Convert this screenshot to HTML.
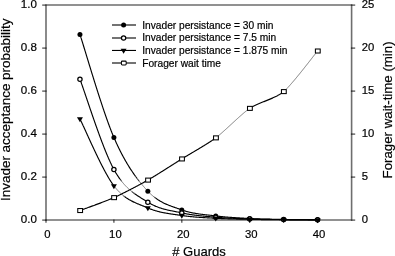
<!DOCTYPE html>
<html><head><meta charset="utf-8"><style>
html,body{margin:0;padding:0;background:#fff;width:395px;height:256px;overflow:hidden}
svg{display:block;will-change:transform}
text{font-family:"Liberation Sans",sans-serif;fill:#000;stroke:#000;stroke-width:0.2px}
</style></head><body>
<svg width="395" height="256" viewBox="0 0 395 256">
<g stroke="#6e6e6e" stroke-width="1.6" fill="none">
<path d="M46.0,5.0 H351.6 V220.0 H46.0 Z"/>
</g>
<g stroke="#000" stroke-opacity="0.68" stroke-width="1.3" fill="none">
<path d="M42.2,220.10 H46.6"/>
<path d="M42.2,177.10 H46.6"/>
<path d="M42.2,134.10 H46.6"/>
<path d="M42.2,91.10 H46.6"/>
<path d="M42.2,48.10 H46.6"/>
<path d="M42.2,5.10 H46.6"/>
<path d="M350.9,220.10 H355.2"/>
<path d="M350.9,177.10 H355.2"/>
<path d="M350.9,134.10 H355.2"/>
<path d="M350.9,91.10 H355.2"/>
<path d="M350.9,48.10 H355.2"/>
<path d="M350.9,5.10 H355.2"/>
<path d="M46.00,219.4 V222.8"/>
<path d="M113.90,219.4 V222.8"/>
<path d="M181.80,219.4 V222.8"/>
<path d="M249.70,219.4 V222.8"/>
<path d="M317.60,219.4 V222.8"/>
</g>
<text transform="translate(36.85,222.90) scale(1.025,1.03)" font-size="11.30" text-anchor="end">0.0</text>
<text transform="translate(36.85,179.90) scale(1.025,1.03)" font-size="11.30" text-anchor="end">0.2</text>
<text transform="translate(36.85,136.90) scale(1.025,1.03)" font-size="11.30" text-anchor="end">0.4</text>
<text transform="translate(36.85,93.90) scale(1.025,1.03)" font-size="11.30" text-anchor="end">0.6</text>
<text transform="translate(36.85,50.90) scale(1.025,1.03)" font-size="11.30" text-anchor="end">0.8</text>
<text transform="translate(36.85,7.90) scale(1.025,1.03)" font-size="11.30" text-anchor="end">1.0</text>
<text transform="translate(361.70,223.20) scale(1,1.030)" font-size="11.30" text-anchor="start">0</text>
<text transform="translate(361.70,180.20) scale(1,1.030)" font-size="11.30" text-anchor="start">5</text>
<text transform="translate(361.70,137.20) scale(1,1.030)" font-size="11.30" text-anchor="start">10</text>
<text transform="translate(361.70,94.20) scale(1,1.030)" font-size="11.30" text-anchor="start">15</text>
<text transform="translate(361.70,51.20) scale(1,1.030)" font-size="11.30" text-anchor="start">20</text>
<text transform="translate(361.70,8.20) scale(1,1.030)" font-size="11.30" text-anchor="start">25</text>
<text transform="translate(47.50,238.00) scale(1,1.000)" font-size="11.30" text-anchor="middle">0</text>
<text transform="translate(115.40,238.00) scale(1,1.000)" font-size="11.30" text-anchor="middle">10</text>
<text transform="translate(183.30,238.00) scale(1,1.000)" font-size="11.30" text-anchor="middle">20</text>
<text transform="translate(251.20,238.00) scale(1,1.000)" font-size="11.30" text-anchor="middle">30</text>
<text transform="translate(319.10,238.00) scale(1,1.000)" font-size="11.30" text-anchor="middle">40</text>
<text transform="translate(199,255.8) scale(0.99,1.03)" font-size="13.2" text-anchor="middle"># Guards</text>
<text transform="translate(9.50,109.80) rotate(-90) scale(0.990,1)" font-size="13.60" text-anchor="middle">Invader acceptance probability</text>
<text transform="translate(392.20,109.90) rotate(-90) scale(0.975,1)" font-size="13.60" text-anchor="middle">Forager wait-time (min)</text>
<path d="M79.95,34.46 L80.05,34.74 L80.14,35.04 L80.24,35.35 L80.34,35.66 L80.45,35.98 L80.55,36.31 L80.66,36.65 L80.77,36.99 L80.88,37.34 L80.99,37.70 L81.11,38.06 L81.23,38.43 L81.35,38.81 L81.47,39.20 L81.59,39.59 L81.72,39.99 L81.84,40.39 L81.97,40.80 L82.10,41.22 L82.23,41.65 L82.37,42.08 L82.50,42.52 L82.64,42.96 L82.78,43.41 L82.92,43.86 L83.06,44.33 L83.20,44.79 L83.35,45.27 L83.50,45.74 L83.64,46.23 L83.79,46.72 L83.95,47.21 L84.10,47.72 L84.25,48.22 L84.41,48.73 L84.57,49.25 L84.73,49.77 L84.89,50.30 L85.05,50.83 L85.21,51.36 L85.38,51.90 L85.54,52.45 L85.71,53.00 L85.88,53.56 L86.05,54.11 L86.22,54.68 L86.39,55.25 L86.57,55.82 L86.74,56.39 L86.92,56.97 L87.10,57.56 L87.28,58.14 L87.46,58.74 L87.64,59.33 L87.82,59.93 L88.01,60.53 L88.19,61.14 L88.38,61.75 L88.56,62.36 L88.75,62.98 L88.94,63.60 L89.13,64.22 L89.32,64.85 L89.51,65.47 L89.71,66.11 L89.90,66.74 L90.10,67.38 L90.29,68.02 L90.49,68.66 L90.69,69.30 L90.89,69.95 L91.09,70.60 L91.29,71.25 L91.49,71.90 L91.69,72.56 L91.89,73.22 L92.10,73.87 L92.30,74.54 L92.50,75.20 L92.71,75.86 L92.92,76.53 L93.12,77.20 L93.33,77.87 L93.54,78.54 L93.75,79.21 L93.96,79.88 L94.17,80.56 L94.38,81.23 L94.59,81.91 L94.80,82.59 L95.02,83.27 L95.23,83.95 L95.44,84.63 L95.66,85.31 L95.87,85.99 L96.09,86.67 L96.30,87.35 L96.52,88.03 L96.73,88.71 L96.95,89.40 L97.17,90.08 L97.38,90.76 L97.60,91.44 L97.82,92.12 L98.04,92.81 L98.25,93.49 L98.47,94.17 L98.69,94.85 L98.91,95.53 L99.13,96.21 L99.35,96.88 L99.57,97.56 L99.79,98.24 L100.01,98.91 L100.23,99.59 L100.45,100.26 L100.67,100.94 L100.89,101.61 L101.11,102.28 L101.33,102.94 L101.55,103.61 L101.77,104.28 L101.99,104.94 L102.21,105.60 L102.43,106.26 L102.65,106.92 L102.87,107.58 L103.08,108.23 L103.30,108.88 L103.52,109.53 L103.74,110.18 L103.96,110.82 L104.18,111.46 L104.40,112.10 L104.62,112.74 L104.83,113.38 L105.05,114.01 L105.27,114.64 L105.49,115.26 L105.70,115.89 L105.92,116.51 L106.14,117.12 L106.35,117.74 L106.57,118.35 L106.78,118.95 L107.00,119.56 L107.21,120.16 L107.42,120.75 L107.64,121.34 L107.85,121.93 L108.06,122.52 L108.27,123.10 L108.48,123.68 L108.69,124.25 L108.90,124.82 L109.11,125.38 L109.32,125.94 L109.53,126.50 L109.74,127.05 L109.94,127.59 L110.15,128.14 L110.35,128.67 L110.56,129.20 L110.76,129.73 L110.96,130.25 L111.16,130.77 L111.37,131.28 L111.57,131.79 L111.77,132.29 L111.96,132.79 L112.16,133.28 L112.36,133.76 L112.56,134.24 L112.75,134.72 L112.94,135.19 L113.14,135.65 L113.33,136.11 L113.52,136.56 L113.71,137.00 L113.90,137.44 L114.22,138.18 L114.54,138.91 L114.86,139.63 L115.18,140.35 L115.50,141.07 L115.82,141.78 L116.14,142.48 L116.46,143.18 L116.78,143.87 L117.10,144.56 L117.42,145.24 L117.74,145.92 L118.06,146.59 L118.38,147.25 L118.70,147.91 L119.02,148.57 L119.34,149.22 L119.67,149.87 L119.99,150.51 L120.31,151.15 L120.63,151.78 L120.95,152.40 L121.27,153.02 L121.59,153.64 L121.91,154.25 L122.23,154.86 L122.55,155.46 L122.87,156.06 L123.19,156.65 L123.51,157.24 L123.83,157.82 L124.15,158.40 L124.47,158.98 L124.79,159.55 L125.11,160.11 L125.43,160.68 L125.75,161.23 L126.07,161.79 L126.39,162.33 L126.71,162.88 L127.03,163.42 L127.35,163.95 L127.67,164.49 L127.99,165.01 L128.31,165.54 L128.63,166.06 L128.95,166.57 L129.27,167.08 L129.59,167.59 L129.91,168.09 L130.23,168.59 L130.55,169.09 L130.88,169.58 L131.20,170.07 L131.52,170.56 L131.84,171.04 L132.16,171.51 L132.48,171.99 L132.80,172.46 L133.12,172.93 L133.44,173.39 L133.76,173.85 L134.08,174.30 L134.40,174.76 L134.72,175.21 L135.04,175.65 L135.36,176.10" stroke="rgb(0,0,0)" stroke-width="1.15" fill="none"/>
<path d="M135.36,176.10 L135.68,176.54 L136.00,176.97 L136.32,177.41 L136.64,177.84 L136.96,178.26 L137.28,178.69" stroke="rgb(26,26,26)" stroke-width="1.09" fill="none"/>
<path d="M137.28,178.69 L137.60,179.11 L137.92,179.53 L138.24,179.94 L138.56,180.35 L138.88,180.76 L139.20,181.17" stroke="rgb(52,52,52)" stroke-width="1.02" fill="none"/>
<path d="M139.20,181.17 L139.52,181.57 L139.84,181.97 L140.16,182.37 L140.48,182.77 L140.80,183.16 L141.12,183.55" stroke="rgb(79,79,79)" stroke-width="0.96" fill="none"/>
<path d="M141.12,183.55 L141.44,183.94 L141.76,184.32 L142.08,184.70 L142.41,185.08 L142.73,185.46 L143.05,185.83 L143.37,186.21 L143.69,186.58 L144.01,186.94 L144.33,187.31 L144.65,187.67 L144.97,188.03 L145.29,188.39 L145.61,188.75 L145.93,189.10 L146.25,189.46 L146.57,189.81 L146.89,190.16 L147.21,190.50 L147.53,190.85 L147.85,191.19 L148.37,191.74 L148.89,192.28 L149.42,192.80 L149.94,193.31 L150.46,193.81 L150.98,194.30 L151.51,194.77 L152.03,195.23 L152.55,195.69 L153.07,196.12" stroke="rgb(105,105,105)" stroke-width="0.90" fill="none"/>
<path d="M153.07,196.12 L153.60,196.55 L154.12,196.97" stroke="rgb(79,79,79)" stroke-width="0.96" fill="none"/>
<path d="M154.12,196.97 L154.64,197.38" stroke="rgb(52,52,52)" stroke-width="1.02" fill="none"/>
<path d="M154.64,197.38 L155.16,197.77 L155.68,198.16" stroke="rgb(26,26,26)" stroke-width="1.09" fill="none"/>
<path d="M155.68,198.16 L156.21,198.54 L156.73,198.90 L157.25,199.26 L157.77,199.61 L158.30,199.95 L158.82,200.28 L159.34,200.60 L159.86,200.91 L160.39,201.22 L160.91,201.51 L161.43,201.80 L161.95,202.09 L162.47,202.36 L163.00,202.63 L163.52,202.90 L164.04,203.15 L164.56,203.40 L165.09,203.65 L165.61,203.89 L166.13,204.12 L166.65,204.35 L167.18,204.57 L167.70,204.79 L168.22,205.01 L168.74,205.22 L169.26,205.43 L169.79,205.63 L170.31,205.83 L170.83,206.03 L171.35,206.22 L171.88,206.42 L172.40,206.61 L172.92,206.79 L173.44,206.98 L173.97,207.16 L174.49,207.35 L175.01,207.53 L175.53,207.71 L176.05,207.89 L176.58,208.07 L177.10,208.25 L177.62,208.43 L178.14,208.61 L178.67,208.79 L179.19,208.97 L179.71,209.15 L180.23,209.33 L180.76,209.52 L181.28,209.71 L181.80,209.90 L182.40,210.11 L182.99,210.32 L183.59,210.52 L184.18,210.71 L184.78,210.90 L185.37,211.08 L185.97,211.26 L186.56,211.43 L187.16,211.59 L187.76,211.75 L188.35,211.91 L188.95,212.05 L189.54,212.20 L190.14,212.34 L190.73,212.47 L191.33,212.60 L191.93,212.73 L192.52,212.85 L193.12,212.97 L193.71,213.08 L194.31,213.19 L194.90,213.30 L195.50,213.40 L196.09,213.50 L196.69,213.60 L197.29,213.69 L197.88,213.78 L198.48,213.87 L199.07,213.96 L199.67,214.04 L200.26,214.12 L200.86,214.20 L201.46,214.27 L202.05,214.35 L202.65,214.42 L203.24,214.49 L203.84,214.56 L204.43,214.63 L205.03,214.70 L205.62,214.77 L206.22,214.83 L206.82,214.90 L207.41,214.97 L208.01,215.03 L208.60,215.10 L209.20,215.16 L209.79,215.22 L210.39,215.29 L210.99,215.36 L211.58,215.42 L212.18,215.49 L212.77,215.56 L213.37,215.63 L213.96,215.70 L214.56,215.77 L215.15,215.84 L215.75,215.91 L216.36,215.99 L216.96,216.07 L217.57,216.14 L218.18,216.21 L218.78,216.28 L219.39,216.35 L219.99,216.41 L220.60,216.48 L221.21,216.54 L221.81,216.60 L222.42,216.66 L223.02,216.72 L223.63,216.78 L224.24,216.84 L224.84,216.90 L225.45,216.95 L226.06,217.00 L226.66,217.06 L227.27,217.11 L227.87,217.16 L228.48,217.21 L229.09,217.25 L229.69,217.30 L230.30,217.35 L230.91,217.39 L231.51,217.44 L232.12,217.48 L232.72,217.52 L233.33,217.56 L233.94,217.60 L234.54,217.64 L235.15,217.68 L235.76,217.72 L236.36,217.76 L236.97,217.80 L237.57,217.83 L238.18,217.87 L238.79,217.91 L239.39,217.94 L240.00,217.98 L240.61,218.01 L241.21,218.04 L241.82,218.08 L242.43,218.11 L243.03,218.14 L243.64,218.18 L244.24,218.21 L244.85,218.24 L245.46,218.27 L246.06,218.31 L246.67,218.34 L247.27,218.37 L247.88,218.40 L248.49,218.43 L249.09,218.46 L249.70,218.50 L250.31,218.53 L250.91,218.56 L251.52,218.59 L252.12,218.62 L252.73,218.64 L253.34,218.67 L253.94,218.70 L254.55,218.72 L255.16,218.75 L255.76,218.77 L256.37,218.80 L256.97,218.82 L257.58,218.84 L258.19,218.87 L258.79,218.89 L259.40,218.91 L260.01,218.93 L260.61,218.95 L261.22,218.97 L261.82,218.99 L262.43,219.00 L263.04,219.02 L263.64,219.04 L264.25,219.06 L264.86,219.07 L265.46,219.09 L266.07,219.10 L266.68,219.12 L267.28,219.13 L267.89,219.15 L268.49,219.16 L269.10,219.18 L269.71,219.19 L270.31,219.20 L270.92,219.22 L271.52,219.23 L272.13,219.24 L272.74,219.26 L273.34,219.27 L273.95,219.28 L274.56,219.29 L275.16,219.30 L275.77,219.32 L276.38,219.33 L276.98,219.34 L277.59,219.35 L278.19,219.36 L278.80,219.37 L279.41,219.38 L280.01,219.39 L280.62,219.41 L281.22,219.42 L281.83,219.43 L282.44,219.44 L283.04,219.45 L283.65,219.46 L284.26,219.47 L284.88,219.48 L285.51,219.50 L286.16,219.51 L286.80,219.52 L287.46,219.53 L288.13,219.54 L288.80,219.55 L289.47,219.55 L290.16,219.56 L290.85,219.57 L291.54,219.58 L292.23,219.59 L292.93,219.60 L293.64,219.60 L294.34,219.61 L295.05,219.62 L295.75,219.63 L296.46,219.63 L297.17,219.64 L297.87,219.64 L298.58,219.65 L299.28,219.66 L299.98,219.66 L300.68,219.67 L301.37,219.67 L302.06,219.68 L302.75,219.68 L303.43,219.69 L304.10,219.69 L304.77,219.70 L305.43,219.70 L306.08,219.71 L306.72,219.71 L307.36,219.72 L307.98,219.72 L308.60,219.72 L309.20,219.73 L309.79,219.73 L310.37,219.74 L310.94,219.74 L311.50,219.74 L312.04,219.75 L312.57,219.75 L313.08,219.75 L313.58,219.76 L314.07,219.76 L314.53,219.76 L314.98,219.76 L315.41,219.77 L315.83,219.77 L316.22,219.77 L316.60,219.78 L316.95,219.78 L317.29,219.78 L317.60,219.78" stroke="rgb(0,0,0)" stroke-width="1.15" fill="none"/>
<path d="M79.95,79.17 L80.06,79.46 L80.17,79.76 L80.28,80.06 L80.40,80.38 L80.51,80.70 L80.63,81.03 L80.76,81.37 L80.88,81.72 L81.01,82.08 L81.14,82.44 L81.27,82.82 L81.41,83.20 L81.54,83.59 L81.68,83.99 L81.83,84.39 L81.97,84.81 L82.12,85.23 L82.27,85.66 L82.42,86.09 L82.57,86.54 L82.72,86.99 L82.88,87.44 L83.04,87.91 L83.20,88.38 L83.37,88.86 L83.53,89.34 L83.70,89.83 L83.87,90.33 L84.04,90.83 L84.21,91.34 L84.39,91.86 L84.57,92.38 L84.75,92.91 L84.93,93.44 L85.11,93.98 L85.29,94.52 L85.48,95.07 L85.67,95.63 L85.86,96.19 L86.05,96.75 L86.24,97.32 L86.44,97.90 L86.63,98.48 L86.83,99.06 L87.03,99.65 L87.23,100.24 L87.44,100.84 L87.64,101.44 L87.85,102.05 L88.05,102.66 L88.26,103.27 L88.47,103.89 L88.68,104.51 L88.89,105.14 L89.11,105.77 L89.32,106.40 L89.54,107.03 L89.76,107.67 L89.97,108.31 L90.19,108.96 L90.42,109.60 L90.64,110.25 L90.86,110.90 L91.09,111.56 L91.31,112.22 L91.54,112.88 L91.77,113.54 L91.99,114.20 L92.22,114.87 L92.45,115.53 L92.68,116.20 L92.92,116.87 L93.15,117.54 L93.38,118.22 L93.62,118.89 L93.85,119.57 L94.09,120.25 L94.33,120.92 L94.56,121.60 L94.80,122.28 L95.04,122.96 L95.28,123.64 L95.52,124.32 L95.76,125.01 L96.00,125.69 L96.25,126.37 L96.49,127.05 L96.73,127.73 L96.98,128.41 L97.22,129.10 L97.46,129.78 L97.71,130.46 L97.95,131.14 L98.20,131.81 L98.44,132.49 L98.69,133.17 L98.94,133.84 L99.18,134.52 L99.43,135.19 L99.68,135.86 L99.92,136.53 L100.17,137.20 L100.42,137.87 L100.67,138.54 L100.91,139.20 L101.16,139.86 L101.41,140.52 L101.66,141.17 L101.90,141.83 L102.15,142.48 L102.40,143.13 L102.65,143.78 L102.89,144.42 L103.14,145.06 L103.39,145.70 L103.63,146.33 L103.88,146.96 L104.13,147.59 L104.37,148.21 L104.62,148.83 L104.86,149.45 L105.11,150.07 L105.35,150.67 L105.60,151.28 L105.84,151.88 L106.08,152.48 L106.32,153.07 L106.57,153.66 L106.81,154.24 L107.05,154.82 L107.29,155.39 L107.53,155.96 L107.77,156.53 L108.01,157.09 L108.25,157.64 L108.48,158.19 L108.72,158.73 L108.96,159.27 L109.19,159.80 L109.42,160.33 L109.66,160.85 L109.89,161.36 L110.12,161.87 L110.35,162.37 L110.58,162.87 L110.81,163.36 L111.04,163.84 L111.27,164.32 L111.49,164.79 L111.72,165.25 L111.94,165.70 L112.16,166.15 L112.38,166.59 L112.60,167.03 L112.82,167.46 L113.04,167.87 L113.26,168.29 L113.47,168.69 L113.69,169.09 L113.90,169.47 L114.33,170.25 L114.76,171.00 L115.19,171.74 L115.62,172.47 L116.05,173.18 L116.48,173.88 L116.91,174.57 L117.34,175.24 L117.77,175.90 L118.20,176.55 L118.63,177.18 L119.06,177.80 L119.49,178.41 L119.92,179.01" stroke="rgb(0,0,0)" stroke-width="1.15" fill="none"/>
<path d="M119.92,179.01 L120.35,179.59 L120.78,180.16" stroke="rgb(26,26,26)" stroke-width="1.09" fill="none"/>
<path d="M120.78,180.16 L121.21,180.72 L121.64,181.27" stroke="rgb(52,52,52)" stroke-width="1.02" fill="none"/>
<path d="M121.64,181.27 L122.07,181.81 L122.49,182.34" stroke="rgb(79,79,79)" stroke-width="0.96" fill="none"/>
<path d="M122.49,182.34 L122.92,182.86 L123.35,183.37 L123.78,183.86 L124.21,184.35 L124.64,184.83 L125.07,185.29 L125.50,185.75 L125.93,186.20 L126.36,186.64 L126.79,187.07 L127.22,187.50 L127.65,187.91 L128.08,188.32 L128.51,188.72 L128.94,189.11 L129.37,189.50 L129.80,189.87 L130.23,190.24 L130.66,190.61 L131.09,190.96" stroke="rgb(105,105,105)" stroke-width="0.90" fill="none"/>
<path d="M131.09,190.96 L131.52,191.32 L131.95,191.66" stroke="rgb(79,79,79)" stroke-width="0.96" fill="none"/>
<path d="M131.95,191.66 L132.38,192.00 L132.81,192.33 L133.24,192.66" stroke="rgb(52,52,52)" stroke-width="1.02" fill="none"/>
<path d="M133.24,192.66 L133.67,192.98 L134.10,193.30 L134.53,193.62" stroke="rgb(26,26,26)" stroke-width="1.09" fill="none"/>
<path d="M134.53,193.62 L134.96,193.92 L135.39,194.23 L135.82,194.53 L136.25,194.82 L136.68,195.12 L137.11,195.41 L137.54,195.69 L137.97,195.98 L138.40,196.26 L138.83,196.53 L139.26,196.81 L139.68,197.08 L140.11,197.35 L140.54,197.62 L140.97,197.89 L141.40,198.16 L141.83,198.42 L142.26,198.69 L142.69,198.95 L143.12,199.22 L143.55,199.48 L143.98,199.74 L144.41,200.01 L144.84,200.27 L145.27,200.54 L145.70,200.80 L146.13,201.07 L146.56,201.34 L146.99,201.61 L147.42,201.88 L147.85,202.16 L148.43,202.52 L149.00,202.87 L149.58,203.21 L150.15,203.54 L150.73,203.87 L151.30,204.18 L151.88,204.48 L152.45,204.77 L153.03,205.06 L153.60,205.34 L154.18,205.60 L154.76,205.86 L155.33,206.11 L155.91,206.36 L156.48,206.59 L157.06,206.82 L157.63,207.04 L158.21,207.26 L158.78,207.47 L159.36,207.67 L159.93,207.86 L160.51,208.05 L161.08,208.24 L161.66,208.41 L162.24,208.59 L162.81,208.75 L163.39,208.92 L163.96,209.07 L164.54,209.23 L165.11,209.38 L165.69,209.52 L166.26,209.67 L166.84,209.80 L167.41,209.94 L167.99,210.07 L168.57,210.20 L169.14,210.33 L169.72,210.45 L170.29,210.57 L170.87,210.69 L171.44,210.81 L172.02,210.93 L172.59,211.04 L173.17,211.16 L173.74,211.27 L174.32,211.38 L174.89,211.50 L175.47,211.61 L176.05,211.72 L176.62,211.83 L177.20,211.95 L177.77,212.06 L178.35,212.18 L178.92,212.30 L179.50,212.41 L180.07,212.53 L180.65,212.65 L181.22,212.78 L181.80,212.91 L182.40,213.04 L182.99,213.16 L183.59,213.29 L184.18,213.41 L184.78,213.53 L185.37,213.64 L185.97,213.75 L186.56,213.86 L187.16,213.97 L187.76,214.08 L188.35,214.18 L188.95,214.28 L189.54,214.38 L190.14,214.47 L190.73,214.56 L191.33,214.65 L191.93,214.74 L192.52,214.83 L193.12,214.91 L193.71,214.99 L194.31,215.07 L194.90,215.15 L195.50,215.23 L196.09,215.30 L196.69,215.38 L197.29,215.45 L197.88,215.52 L198.48,215.59 L199.07,215.65 L199.67,215.72 L200.26,215.78 L200.86,215.85 L201.46,215.91 L202.05,215.97 L202.65,216.03 L203.24,216.09 L203.84,216.14 L204.43,216.20 L205.03,216.26 L205.62,216.31 L206.22,216.37 L206.82,216.42 L207.41,216.48 L208.01,216.53 L208.60,216.58 L209.20,216.63 L209.79,216.69 L210.39,216.74 L210.99,216.79 L211.58,216.84 L212.18,216.89 L212.77,216.94 L213.37,217.00 L213.96,217.05 L214.56,217.10 L215.15,217.15 L215.75,217.21 L216.36,217.26 L216.96,217.31 L217.57,217.36 L218.18,217.41 L218.78,217.46 L219.39,217.50 L219.99,217.55 L220.60,217.60 L221.21,217.64 L221.81,217.68 L222.42,217.72 L223.02,217.76 L223.63,217.80 L224.24,217.84 L224.84,217.88 L225.45,217.91 L226.06,217.95 L226.66,217.98 L227.27,218.02 L227.87,218.05 L228.48,218.08 L229.09,218.12 L229.69,218.15 L230.30,218.18 L230.91,218.21 L231.51,218.24 L232.12,218.26 L232.72,218.29 L233.33,218.32 L233.94,218.34 L234.54,218.37 L235.15,218.40 L235.76,218.42 L236.36,218.44 L236.97,218.47 L237.57,218.49 L238.18,218.52 L238.79,218.54 L239.39,218.56 L240.00,218.58 L240.61,218.61 L241.21,218.63 L241.82,218.65 L242.43,218.67 L243.03,218.69 L243.64,218.71 L244.24,218.73 L244.85,218.76 L245.46,218.78 L246.06,218.80 L246.67,218.82 L247.27,218.84 L247.88,218.86 L248.49,218.88 L249.09,218.90 L249.70,218.93 L250.31,218.95 L250.91,218.97 L251.52,218.99 L252.12,219.01 L252.73,219.03 L253.34,219.05 L253.94,219.06 L254.55,219.08 L255.16,219.10 L255.76,219.12 L256.37,219.13 L256.97,219.15 L257.58,219.16 L258.19,219.18 L258.79,219.20 L259.40,219.21 L260.01,219.22 L260.61,219.24 L261.22,219.25 L261.82,219.27 L262.43,219.28 L263.04,219.29 L263.64,219.30 L264.25,219.32 L264.86,219.33 L265.46,219.34 L266.07,219.35 L266.68,219.36 L267.28,219.37 L267.89,219.38 L268.49,219.39 L269.10,219.40 L269.71,219.41 L270.31,219.42 L270.92,219.43 L271.52,219.44 L272.13,219.45 L272.74,219.46 L273.34,219.47 L273.95,219.48 L274.56,219.49 L275.16,219.50 L275.77,219.51 L276.38,219.51 L276.98,219.52 L277.59,219.53 L278.19,219.54 L278.80,219.55 L279.41,219.56 L280.01,219.56 L280.62,219.57 L281.22,219.58 L281.83,219.59 L282.44,219.60 L283.04,219.60 L283.65,219.61 L284.26,219.62 L284.88,219.63 L285.51,219.64 L286.16,219.64 L286.80,219.65 L287.46,219.66 L288.13,219.67 L288.80,219.67 L289.47,219.68 L290.16,219.69 L290.85,219.69 L291.54,219.70 L292.23,219.70 L292.93,219.71 L293.64,219.71 L294.34,219.72 L295.05,219.73 L295.75,219.73 L296.46,219.74 L297.17,219.74 L297.87,219.75 L298.58,219.75 L299.28,219.75 L299.98,219.76 L300.68,219.76 L301.37,219.77 L302.06,219.77 L302.75,219.77 L303.43,219.78 L304.10,219.78 L304.77,219.79 L305.43,219.79 L306.08,219.79 L306.72,219.79 L307.36,219.80 L307.98,219.80 L308.60,219.80 L309.20,219.81 L309.79,219.81 L310.37,219.81 L310.94,219.81 L311.50,219.82 L312.04,219.82 L312.57,219.82 L313.08,219.83 L313.58,219.83 L314.07,219.83 L314.53,219.83 L314.98,219.83 L315.41,219.84 L315.83,219.84 L316.22,219.84 L316.60,219.84 L316.95,219.85 L317.29,219.85 L317.60,219.85" stroke="rgb(0,0,0)" stroke-width="1.15" fill="none"/>
<path d="M79.95,118.95 L80.09,119.22 L80.23,119.51 L80.38,119.80 L80.53,120.11 L80.68,120.43 L80.84,120.75 L81.00,121.09 L81.17,121.44 L81.34,121.80 L81.52,122.17 L81.70,122.54 L81.88,122.93 L82.06,123.33 L82.25,123.74 L82.45,124.15 L82.64,124.57 L82.84,125.01 L83.05,125.45 L83.25,125.90 L83.47,126.35 L83.68,126.82 L83.90,127.29 L84.12,127.77 L84.34,128.26 L84.57,128.76 L84.80,129.26 L85.03,129.77 L85.27,130.29 L85.50,130.81 L85.74,131.34 L85.99,131.88 L86.24,132.42 L86.49,132.97 L86.74,133.52 L86.99,134.08 L87.25,134.65 L87.51,135.22 L87.77,135.79 L88.04,136.37 L88.30,136.96 L88.57,137.55 L88.84,138.14 L89.12,138.74 L89.39,139.34 L89.67,139.95 L89.95,140.56 L90.23,141.17 L90.51,141.79 L90.80,142.41 L91.09,143.03 L91.37,143.65 L91.66,144.28 L91.96,144.91 L92.25,145.55 L92.55,146.18 L92.84,146.82 L93.14,147.46 L93.44,148.10 L93.74,148.74 L94.04,149.38 L94.35,150.03 L94.65,150.68 L94.96,151.32 L95.26,151.97 L95.57,152.62 L95.88,153.26 L96.19,153.91 L96.50,154.56 L96.81,155.21 L97.12,155.86 L97.43,156.50 L97.75,157.15 L98.06,157.79 L98.38,158.44 L98.69,159.08 L99.01,159.72 L99.32,160.36 L99.64,161.00 L99.95,161.63 L100.27,162.27 L100.59,162.90 L100.90,163.53 L101.22,164.15 L101.54,164.78 L101.85,165.40 L102.17,166.02 L102.49,166.63 L102.80,167.24 L103.12,167.85 L103.44,168.45 L103.75,169.05 L104.07,169.65 L104.38,170.24 L104.70,170.82 L105.01,171.40 L105.32,171.98 L105.63,172.55 L105.95,173.12 L106.26,173.68 L106.57,174.23 L106.88,174.78 L107.18,175.33 L107.49,175.87 L107.80,176.40 L108.10,176.92 L108.41,177.44 L108.71,177.95 L109.01,178.46 L109.31,178.95 L109.61,179.45 L109.91,179.93 L110.20,180.40 L110.50,180.87 L110.79,181.33 L111.08,181.78 L111.37,182.23 L111.66,182.66 L111.95,183.09 L112.23,183.50 L112.52,183.91 L112.80,184.31 L113.08,184.70 L113.35,185.08" stroke="rgb(0,0,0)" stroke-width="1.15" fill="none"/>
<path d="M113.35,185.08 L113.63,185.45 L113.90,185.81" stroke="rgb(26,26,26)" stroke-width="1.09" fill="none"/>
<path d="M113.90,185.81 L114.40,186.46" stroke="rgb(52,52,52)" stroke-width="1.02" fill="none"/>
<path d="M114.40,186.46 L114.90,187.09 L115.40,187.71" stroke="rgb(79,79,79)" stroke-width="0.96" fill="none"/>
<path d="M115.40,187.71 L115.90,188.31 L116.40,188.89 L116.90,189.46 L117.39,190.02 L117.89,190.56 L118.39,191.08 L118.89,191.60 L119.39,192.10 L119.89,192.59 L120.39,193.06 L120.89,193.52 L121.39,193.97 L121.89,194.41 L122.39,194.84 L122.89,195.25" stroke="rgb(105,105,105)" stroke-width="0.90" fill="none"/>
<path d="M122.89,195.25 L123.39,195.66" stroke="rgb(79,79,79)" stroke-width="0.96" fill="none"/>
<path d="M123.39,195.66 L123.89,196.05 L124.38,196.43" stroke="rgb(52,52,52)" stroke-width="1.02" fill="none"/>
<path d="M124.38,196.43 L124.88,196.81" stroke="rgb(26,26,26)" stroke-width="1.09" fill="none"/>
<path d="M124.88,196.81 L125.38,197.17 L125.88,197.52 L126.38,197.87 L126.88,198.20 L127.38,198.53 L127.88,198.85 L128.38,199.16 L128.88,199.46 L129.38,199.76 L129.88,200.04 L130.38,200.32 L130.88,200.60 L131.37,200.86 L131.87,201.12 L132.37,201.38 L132.87,201.63 L133.37,201.87 L133.87,202.11 L134.37,202.35 L134.87,202.58 L135.37,202.80 L135.87,203.03 L136.37,203.25 L136.87,203.46 L137.37,203.67 L137.86,203.88 L138.36,204.09 L138.86,204.30 L139.36,204.50 L139.86,204.70 L140.36,204.90 L140.86,205.10 L141.36,205.30 L141.86,205.50 L142.36,205.70 L142.86,205.90 L143.36,206.10 L143.86,206.30 L144.36,206.50 L144.85,206.70 L145.35,206.91 L145.85,207.11 L146.35,207.32 L146.85,207.53 L147.35,207.74 L147.85,207.96 L148.44,208.21 L149.02,208.46 L149.61,208.70 L150.19,208.93 L150.78,209.15 L151.36,209.37 L151.95,209.58 L152.53,209.79 L153.12,209.99 L153.70,210.18 L154.29,210.37 L154.87,210.55 L155.46,210.73 L156.04,210.90 L156.63,211.06 L157.22,211.22 L157.80,211.38 L158.39,211.53 L158.97,211.68 L159.56,211.82 L160.14,211.96 L160.73,212.09 L161.31,212.22 L161.90,212.35 L162.48,212.47 L163.07,212.59 L163.65,212.71 L164.24,212.82 L164.83,212.93 L165.41,213.04 L166.00,213.14 L166.58,213.24 L167.17,213.34 L167.75,213.44 L168.34,213.54 L168.92,213.63 L169.51,213.72 L170.09,213.81 L170.68,213.90 L171.26,213.98 L171.85,214.07 L172.43,214.15 L173.02,214.24 L173.61,214.32 L174.19,214.40 L174.78,214.48 L175.36,214.57 L175.95,214.65 L176.53,214.73 L177.12,214.81 L177.70,214.89 L178.29,214.97 L178.87,215.06 L179.46,215.14 L180.04,215.22 L180.63,215.31 L181.21,215.40 L181.80,215.49 L182.41,215.58 L183.01,215.66 L183.62,215.75 L184.23,215.83 L184.83,215.92 L185.44,216.00 L186.04,216.07 L186.65,216.15 L187.26,216.22 L187.86,216.29 L188.47,216.36 L189.07,216.43 L189.68,216.49 L190.29,216.56 L190.89,216.62 L191.50,216.68 L192.11,216.74 L192.71,216.79 L193.32,216.85 L193.92,216.90 L194.53,216.96 L195.14,217.01 L195.74,217.06 L196.35,217.10 L196.96,217.15 L197.56,217.20 L198.17,217.24 L198.78,217.29 L199.38,217.33 L199.99,217.37 L200.59,217.41 L201.20,217.45 L201.81,217.49 L202.41,217.53 L203.02,217.57 L203.62,217.60 L204.23,217.64 L204.84,217.67 L205.44,217.71 L206.05,217.74 L206.66,217.78 L207.26,217.81 L207.87,217.85 L208.47,217.88 L209.08,217.91 L209.69,217.95 L210.29,217.98 L210.90,218.01 L211.51,218.05 L212.11,218.08 L212.72,218.11 L213.32,218.14 L213.93,218.18 L214.54,218.21 L215.14,218.25 L215.75,218.28 L216.36,218.31 L216.96,218.35 L217.57,218.38 L218.18,218.41 L218.78,218.44 L219.39,218.47 L219.99,218.50 L220.60,218.53 L221.21,218.56 L221.81,218.58 L222.42,218.61 L223.02,218.64 L223.63,218.66 L224.24,218.68 L224.84,218.71 L225.45,218.73 L226.06,218.75 L226.66,218.78 L227.27,218.80 L227.87,218.82 L228.48,218.84 L229.09,218.86 L229.69,218.88 L230.30,218.89 L230.91,218.91 L231.51,218.93 L232.12,218.95 L232.72,218.97 L233.33,218.98 L233.94,219.00 L234.54,219.01 L235.15,219.03 L235.76,219.04 L236.36,219.06 L236.97,219.07 L237.57,219.09 L238.18,219.10 L238.79,219.12 L239.39,219.13 L240.00,219.15 L240.61,219.16 L241.21,219.17 L241.82,219.19 L242.43,219.20 L243.03,219.21 L243.64,219.22 L244.24,219.24 L244.85,219.25 L245.46,219.26 L246.06,219.28 L246.67,219.29 L247.27,219.30 L247.88,219.32 L248.49,219.33 L249.09,219.34 L249.70,219.35 L250.31,219.37 L250.91,219.38 L251.52,219.39 L252.12,219.41 L252.73,219.42 L253.34,219.43 L253.94,219.44 L254.55,219.45 L255.16,219.46 L255.76,219.47 L256.37,219.49 L256.97,219.50 L257.58,219.51 L258.19,219.51 L258.79,219.52 L259.40,219.53 L260.01,219.54 L260.61,219.55 L261.22,219.56 L261.82,219.57 L262.43,219.58 L263.04,219.58 L263.64,219.59 L264.25,219.60 L264.86,219.61 L265.46,219.61 L266.07,219.62 L266.68,219.63 L267.28,219.64 L267.89,219.64 L268.49,219.65 L269.10,219.66 L269.71,219.66 L270.31,219.67 L270.92,219.67 L271.52,219.68 L272.13,219.69 L272.74,219.69 L273.34,219.70 L273.95,219.70 L274.56,219.71 L275.16,219.71 L275.77,219.72 L276.38,219.72 L276.98,219.73 L277.59,219.73 L278.19,219.74 L278.80,219.75 L279.41,219.75 L280.01,219.76 L280.62,219.76 L281.22,219.77 L281.83,219.77 L282.44,219.78 L283.04,219.78 L283.65,219.78 L284.26,219.79 L284.88,219.79 L285.51,219.80 L286.16,219.80 L286.80,219.81 L287.46,219.81 L288.13,219.82 L288.80,219.82 L289.47,219.82 L290.16,219.83 L290.85,219.83 L291.54,219.83 L292.23,219.84 L292.93,219.84 L293.64,219.84 L294.34,219.85 L295.05,219.85 L295.75,219.85 L296.46,219.86 L297.17,219.86 L297.87,219.86 L298.58,219.86 L299.28,219.87 L299.98,219.87 L300.68,219.87 L301.37,219.87 L302.06,219.87 L302.75,219.88 L303.43,219.88 L304.10,219.88 L304.77,219.88 L305.43,219.88 L306.08,219.89 L306.72,219.89 L307.36,219.89 L307.98,219.89 L308.60,219.89 L309.20,219.89 L309.79,219.89 L310.37,219.90 L310.94,219.90 L311.50,219.90 L312.04,219.90 L312.57,219.90 L313.08,219.90 L313.58,219.90 L314.07,219.90 L314.53,219.90 L314.98,219.91 L315.41,219.91 L315.83,219.91 L316.22,219.91 L316.60,219.91 L316.95,219.91 L317.29,219.91 L317.60,219.91" stroke="rgb(0,0,0)" stroke-width="1.15" fill="none"/>
<path d="M79.95,210.54 L80.18,210.45 L80.43,210.36 L80.71,210.26 L81.02,210.14 L81.35,210.02 L81.70,209.89 L82.08,209.75 L82.48,209.60 L82.91,209.45 L83.35,209.29 L83.81,209.12 L84.30,208.94 L84.80,208.76 L85.32,208.57 L85.85,208.38 L86.40,208.18 L86.97,207.97 L87.55,207.76 L88.14,207.55 L88.75,207.32 L89.37,207.10 L90.00,206.87 L90.64,206.64 L91.29,206.40 L91.95,206.16 L92.61,205.91 L93.28,205.67 L93.96,205.42 L94.65,205.17 L95.33,204.91 L96.02,204.66 L96.72,204.40 L97.41,204.14 L98.11,203.88 L98.81,203.62 L99.51,203.36 L100.20,203.10 L100.89,202.84 L101.58,202.58 L102.27,202.32 L102.95,202.06 L103.63,201.80 L104.30,201.54 L104.96,201.29 L105.61,201.03 L106.26,200.78 L106.89,200.53 L107.52,200.29 L108.13,200.04 L108.73,199.80 L109.32,199.57 L109.90,199.34 L110.46,199.11 L111.00,198.88 L111.53,198.66 L112.04,198.45 L112.54,198.24 L113.01,198.03 L113.47,197.83 L113.90,197.64 L114.31,197.45 L114.73,197.26 L115.17,197.06 L115.61,196.86 L116.07,196.64 L116.54,196.42 L117.02,196.20 L117.51,195.96 L118.01,195.72 L118.52,195.48 L119.03,195.23 L119.56,194.97 L120.09,194.71 L120.63,194.45 L121.18,194.18 L121.73,193.90 L122.29,193.63 L122.86,193.34 L123.43,193.06 L124.01,192.77 L124.59,192.48 L125.17,192.18 L125.76,191.88 L126.36,191.58 L126.95,191.27 L127.55,190.97 L128.15,190.66 L128.76,190.35 L129.36,190.04 L129.97,189.73 L130.57,189.41 L131.18,189.10 L131.78,188.78 L132.39,188.47 L132.99,188.15 L133.60,187.83 L134.20,187.52 L134.80,187.20 L135.39,186.89 L135.99,186.57 L136.58,186.26 L137.16,185.95 L137.74,185.64 L138.32,185.33 L138.89,185.02 L139.46,184.72 L140.02,184.42 L140.57,184.12 L141.12,183.82 L141.66,183.53 L142.19,183.24 L142.72,182.95 L143.23,182.67 L143.74,182.39 L144.24,182.12 L144.73,181.85 L145.21,181.58 L145.68,181.32 L146.14,181.06 L146.58,180.81 L147.02,180.57 L147.44,180.33 L147.85,180.10 L148.24,179.87 L148.64,179.64 L149.06,179.40 L149.48,179.15 L149.92,178.89 L150.36,178.63 L150.82,178.36 L151.28,178.08 L151.75,177.80 L152.23,177.51 L152.72,177.22 L153.22,176.91 L153.72,176.61 L154.23,176.29 L154.75,175.98 L155.28,175.65 L155.81,175.33 L156.34,175.00 L156.89,174.66 L157.43,174.32 L157.98,173.98 L158.54,173.63 L159.10,173.29 L159.66,172.93 L160.23,172.58 L160.79,172.22 L161.37,171.86 L161.94,171.50 L162.51,171.14 L163.09,170.78 L163.67,170.41 L164.25,170.05 L164.83,169.68 L165.40,169.32 L165.98,168.95 L166.56,168.59 L167.14,168.22 L167.71,167.86 L168.28,167.49 L168.86,167.13 L169.42,166.77 L169.99,166.41 L170.55,166.05 L171.11,165.70 L171.67,165.34 L172.22,164.99 L172.76,164.65 L173.31,164.30 L173.84,163.96 L174.37,163.62 L174.90,163.29 L175.42,162.96 L175.93,162.64 L176.43,162.32 L176.93,162.00 L177.42,161.69 L177.90,161.39 L178.37,161.09 L178.83,160.80 L179.29,160.51 L179.73,160.23 L180.17,159.96 L180.59,159.69 L181.01,159.44 L181.41,159.18 L181.80,158.94 L182.19,158.70 L182.59,158.45 L183.01,158.19 L183.43,157.94 L183.87,157.67 L184.31,157.40 L184.77,157.13 L185.23,156.85 L185.70,156.57 L186.18,156.28 L186.67,155.99 L187.17,155.69 L187.67,155.39 L188.18,155.09 L188.70,154.78 L189.23,154.47 L189.76,154.15 L190.29,153.83 L190.84,153.51 L191.38,153.19 L191.93,152.86 L192.49,152.54 L193.05,152.21 L193.61,151.87 L194.18,151.54 L194.74,151.20 L195.32,150.86 L195.89,150.52 L196.46,150.18 L197.04,149.83 L197.62,149.49 L198.20,149.14 L198.78,148.80 L199.35,148.45 L199.93,148.10 L200.51,147.75 L201.09,147.40 L201.66,147.05 L202.23,146.71 L202.81,146.36 L203.37,146.01 L203.94,145.66 L204.50,145.32 L205.06,144.97 L205.62,144.62 L206.17,144.28 L206.71,143.94 L207.26,143.60 L207.79,143.26 L208.32,142.92 L208.85,142.58 L209.37,142.25 L209.88,141.92 L210.38,141.59 L210.88,141.26 L211.37,140.93 L211.85,140.61 L212.32,140.29 L212.78,139.98 L213.24,139.67 L213.68,139.36 L214.12,139.05 L214.54,138.75 L214.96,138.45 L215.36,138.16 L215.75,137.87" stroke="rgb(0,0,0)" stroke-width="1.15" fill="none"/>
<path d="M215.75,137.87 L216.10,137.61 L216.46,137.33 L216.82,137.05 L217.20,136.75 L217.58,136.44 L217.97,136.13 L218.37,135.80 L218.78,135.46 L219.19,135.11 L219.61,134.76 L220.04,134.39 L220.48,134.02 L220.92,133.64 L221.36,133.25 L221.82,132.85 L222.27,132.45 L222.74,132.04 L223.21,131.62 L223.68,131.20 L224.16,130.77 L224.64,130.33 L225.12,129.89 L225.61,129.45 L226.11,129.00 L226.60,128.55 L227.10,128.09 L227.61,127.63 L228.11,127.17 L228.62,126.70 L229.13,126.23 L229.64,125.76 L230.15,125.29 L230.66,124.82 L231.18,124.35 L231.69,123.87 L232.21,123.39 L232.72,122.92 L233.24,122.44 L233.76,121.97 L234.27,121.50 L234.79,121.02 L235.30,120.55 L235.81,120.09 L236.32,119.62 L236.83,119.16 L237.34,118.69 L237.84,118.24 L238.35,117.78 L238.85,117.33 L239.34,116.89 L239.84,116.45 L240.33,116.01 L240.81,115.58 L241.29,115.16 L241.77,114.74 L242.24,114.33 L242.71,113.92 L243.18,113.52 L243.63,113.13 L244.09,112.75 L244.53,112.37 L244.97,112.00 L245.41,111.65 L245.84,111.30 L246.26,110.96 L246.67,110.63 L247.08,110.31 L247.48,110.00 L247.87,109.70 L248.25,109.41 L248.63,109.13 L248.99,108.87 L249.35,108.61 L249.70,108.37" stroke="rgb(105,105,105)" stroke-width="0.90" fill="none"/>
<path d="M249.70,108.37 L250.11,108.10 L250.53,107.83 L250.97,107.56 L251.41,107.29 L251.87,107.03 L252.34,106.77 L252.82,106.51 L253.31,106.25 L253.81,106.00 L254.32,105.75 L254.83,105.49 L255.36,105.24 L255.89,105.00 L256.43,104.75 L256.98,104.50 L257.53,104.26 L258.09,104.02 L258.66,103.77 L259.23,103.53 L259.81,103.29 L260.39,103.05 L260.97,102.81 L261.56,102.57 L262.16,102.32 L262.75,102.08 L263.35,101.84 L263.95,101.60 L264.56,101.36 L265.16,101.12 L265.77,100.87 L266.37,100.63 L266.98,100.38 L267.58,100.14 L268.19,99.89 L268.79,99.64 L269.40,99.39 L270.00,99.14 L270.60,98.89 L271.19,98.63 L271.79,98.37 L272.38,98.11 L272.96,97.85 L273.54,97.59 L274.12,97.32 L274.69,97.05 L275.26,96.78 L275.82,96.50 L276.37,96.23 L276.92,95.94 L277.46,95.66 L277.99,95.37 L278.52,95.08 L279.03,94.78 L279.54,94.49 L280.04,94.18 L280.53,93.88 L281.01,93.56 L281.48,93.25 L281.94,92.93 L282.38,92.60 L282.82,92.27 L283.24,91.94 L283.65,91.60" stroke="rgb(0,0,0)" stroke-width="1.15" fill="none"/>
<path d="M283.65,91.60 L283.94,91.35 L284.25,91.08 L284.56,90.80 L284.88,90.50 L285.21,90.18 L285.55,89.85 L285.90,89.51 L286.26,89.15 L286.62,88.79 L286.99,88.40 L287.37,88.01 L287.76,87.60 L288.15,87.18 L288.55,86.75 L288.95,86.31 L289.36,85.86 L289.78,85.40 L290.20,84.92 L290.63,84.44 L291.06,83.95 L291.50,83.45 L291.94,82.95 L292.38,82.43 L292.83,81.91 L293.29,81.38 L293.74,80.85 L294.20,80.31 L294.66,79.76 L295.13,79.20 L295.59,78.65 L296.06,78.08 L296.53,77.52 L297.00,76.95 L297.48,76.37 L297.95,75.79 L298.42,75.21 L298.90,74.63 L299.38,74.05 L299.85,73.46 L300.33,72.87 L300.80,72.28 L301.27,71.70 L301.75,71.11 L302.22,70.52 L302.69,69.93 L303.15,69.35 L303.62,68.76 L304.08,68.18 L304.54,67.60 L305.00,67.02 L305.45,66.45 L305.90,65.88 L306.35,65.31 L306.79,64.75 L307.23,64.19 L307.66,63.64 L308.09,63.09 L308.52,62.55 L308.94,62.02 L309.35,61.49 L309.76,60.97 L310.16,60.46 L310.55,59.95 L310.94,59.45 L311.32,58.96 L311.70,58.48 L312.07,58.01 L312.42,57.55 L312.78,57.10 L313.12,56.66 L313.45,56.24 L313.78,55.82 L314.10,55.41 L314.41,55.02 L314.70,54.64 L314.99,54.27 L315.27,53.92 L315.54,53.58 L315.80,53.25 L316.04,52.94 L316.28,52.64 L316.50,52.36 L316.72,52.09 L316.92,51.84 L317.11,51.61 L317.28,51.39 L317.45,51.19 L317.60,51.01" stroke="rgb(105,105,105)" stroke-width="0.90" fill="none"/>
<circle cx="79.95" cy="34.46" r="2.50" fill="#000"/>
<circle cx="113.90" cy="137.44" r="2.50" fill="#000"/>
<circle cx="147.85" cy="191.19" r="2.50" fill="#000"/>
<circle cx="181.80" cy="209.90" r="2.50" fill="#000"/>
<circle cx="215.75" cy="215.91" r="2.50" fill="#000"/>
<circle cx="249.70" cy="218.50" r="2.50" fill="#000"/>
<circle cx="283.65" cy="219.46" r="2.50" fill="#000"/>
<circle cx="317.60" cy="219.78" r="2.50" fill="#000"/>
<circle cx="79.95" cy="79.17" r="2.15" fill="#fff" stroke="#000" stroke-width="1.25"/>
<circle cx="113.90" cy="169.47" r="2.15" fill="#fff" stroke="#000" stroke-width="1.25"/>
<circle cx="147.85" cy="202.16" r="2.15" fill="#fff" stroke="#000" stroke-width="1.25"/>
<circle cx="181.80" cy="212.91" r="2.15" fill="#fff" stroke="#000" stroke-width="1.25"/>
<circle cx="215.75" cy="217.21" r="2.15" fill="#fff" stroke="#000" stroke-width="1.25"/>
<circle cx="249.70" cy="218.93" r="2.15" fill="#fff" stroke="#000" stroke-width="1.25"/>
<circle cx="283.65" cy="219.61" r="2.15" fill="#fff" stroke="#000" stroke-width="1.25"/>
<circle cx="317.60" cy="219.85" r="2.15" fill="#fff" stroke="#000" stroke-width="1.25"/>
<path d="M76.95,117.28 L82.95,117.28 L79.95,122.28 Z" fill="#000"/>
<path d="M110.90,184.15 L116.90,184.15 L113.90,189.15 Z" fill="#000"/>
<path d="M144.85,206.29 L150.85,206.29 L147.85,211.29 Z" fill="#000"/>
<path d="M178.80,213.82 L184.80,213.82 L181.80,218.82 Z" fill="#000"/>
<path d="M212.75,216.61 L218.75,216.61 L215.75,221.61 Z" fill="#000"/>
<path d="M246.70,217.69 L252.70,217.69 L249.70,222.69 Z" fill="#000"/>
<path d="M280.65,218.12 L286.65,218.12 L283.65,223.12 Z" fill="#000"/>
<path d="M314.60,218.25 L320.60,218.25 L317.60,223.25 Z" fill="#000"/>
<rect x="77.75" y="208.54" width="4.80" height="4.00" rx="0.00" fill="#fff" stroke="#000" stroke-width="1.05"/>
<rect x="111.70" y="195.64" width="4.80" height="4.00" rx="0.00" fill="#fff" stroke="#000" stroke-width="1.05"/>
<rect x="145.65" y="178.10" width="4.80" height="4.00" rx="0.00" fill="#fff" stroke="#000" stroke-width="1.05"/>
<rect x="179.60" y="156.94" width="4.80" height="4.00" rx="0.00" fill="#fff" stroke="#000" stroke-width="1.05"/>
<rect x="213.55" y="135.87" width="4.80" height="4.00" rx="0.00" fill="#fff" stroke="#000" stroke-width="1.05"/>
<rect x="247.50" y="106.37" width="4.80" height="4.00" rx="0.00" fill="#fff" stroke="#000" stroke-width="1.05"/>
<rect x="281.45" y="89.60" width="4.80" height="4.00" rx="0.00" fill="#fff" stroke="#000" stroke-width="1.05"/>
<rect x="315.40" y="49.01" width="4.80" height="4.00" rx="0.00" fill="#fff" stroke="#000" stroke-width="1.05"/>
<path d="M112,25.00 H136" stroke="#000" stroke-width="1.1"/>
<circle cx="123.60" cy="25.00" r="2.50" fill="#000"/>
<text transform="translate(142.20,28.60) scale(1,1.030)" font-size="10.20" text-anchor="start">Invader persistance = 30 min</text>
<path d="M112,38.00 H136" stroke="#000" stroke-width="1.1"/>
<circle cx="123.60" cy="38.00" r="2.15" fill="#fff" stroke="#000" stroke-width="1.25"/>
<text transform="translate(142.20,41.30) scale(1,1.030)" font-size="10.20" text-anchor="start">Invader persistance = 7.5 min</text>
<path d="M112,50.45 H136" stroke="#000" stroke-width="1.1"/>
<path d="M120.60,48.78 L126.60,48.78 L123.60,53.78 Z" fill="#000"/>
<text transform="translate(142.20,54.05) scale(1,1.030)" font-size="10.20" text-anchor="start">Invader persistance = 1.875 min</text>
<path d="M112,63.00 H136" stroke="#000" stroke-width="1.1"/>
<rect x="121.40" y="61.10" width="4.80" height="3.80" rx="0.90" fill="#fff" stroke="#000" stroke-width="1.05"/>
<text transform="translate(142.20,66.50) scale(1,1.030)" font-size="10.20" text-anchor="start">Forager wait time</text>
</svg></body></html>
